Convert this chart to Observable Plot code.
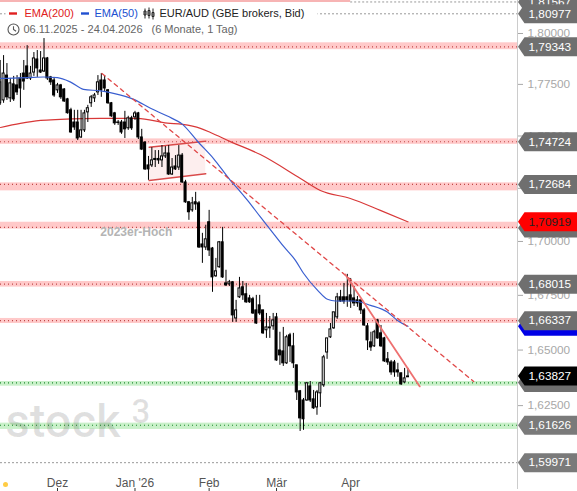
<!DOCTYPE html>
<html>
<head>
<meta charset="utf-8">
<script src="https://cdn.jsdelivr.net/npm/d3@7"></script>
<script src="https://cdn.jsdelivr.net/npm/@observablehq/plot@0.6"></script>
<style>html,body{margin:0;padding:0;background:#fff}</style>
</head>
<body>
<div id="chart"></div>
<script>
const opens=[1.7658,1.7672,1.7793,1.7682,1.7750,1.7745,1.7779,1.7803,1.7838,1.7779,1.7808,1.7872,1.7818,1.7813,1.7877,1.7784,1.7769,1.7721,1.7745,1.7725,1.7677,1.7624,1.7565,1.7565,1.7493,1.7527,1.7614,1.7658,1.7682,1.7711,1.7769,1.7769,1.7721,1.7658,1.7609,1.7565,1.7565,1.7565,1.7537,1.7585,1.7590,1.7609,1.7493,1.7468,1.7359,1.7359,1.7390,1.7390,1.7383,1.7402,1.7416,1.7316,1.7354,1.7349,1.7406,1.7278,1.7184,1.7146,1.7184,1.7179,1.6986,1.6972,1.7090,1.6967,1.6838,1.6880,1.6996,1.6805,1.6801,1.6810,1.6644,1.6741,1.6787,1.6755,1.6736,1.6732,1.6681,1.6704,1.6681,1.6590,1.6599,1.6608,1.6649,1.6498,1.6494,1.6440,1.6567,1.6517,1.6431,1.6314,1.6273,1.6273,1.6336,1.6278,1.6242,1.6305,1.6341,1.6489,1.6558,1.6599,1.6649,1.6741,1.6741,1.6741,1.6750,1.6736,1.6727,1.6727,1.6681,1.6608,1.6535,1.6517,1.6635,1.6576,1.6553,1.6458,1.6444,1.6444,1.6408,1.6395,1.6354,1.6377];
const closes=[1.7760,1.7803,1.7687,1.7755,1.7677,1.7711,1.7730,1.7764,1.7779,1.7803,1.7877,1.7828,1.7808,1.7877,1.7779,1.7760,1.7696,1.7745,1.7687,1.7667,1.7610,1.7517,1.7541,1.7488,1.7527,1.7609,1.7634,1.7687,1.7696,1.7760,1.7721,1.7730,1.7658,1.7595,1.7561,1.7563,1.7517,1.7532,1.7585,1.7537,1.7609,1.7493,1.7435,1.7340,1.7340,1.7383,1.7385,1.7383,1.7402,1.7416,1.7316,1.7349,1.7340,1.7406,1.7278,1.7184,1.7137,1.7179,1.7174,1.6972,1.6972,1.7010,1.6958,1.6833,1.6861,1.6996,1.6833,1.6796,1.6810,1.6658,1.6681,1.6782,1.6750,1.6718,1.6718,1.6667,1.6621,1.6667,1.6576,1.6603,1.6603,1.6635,1.6453,1.6476,1.6440,1.6558,1.6517,1.6440,1.6309,1.6193,1.6189,1.6350,1.6273,1.6238,1.6309,1.6350,1.6467,1.6553,1.6594,1.6672,1.6741,1.6722,1.6722,1.6727,1.6722,1.6713,1.6713,1.6681,1.6612,1.6544,1.6512,1.6581,1.6553,1.6517,1.6449,1.6444,1.6399,1.6399,1.6399,1.6345,1.6372,1.6381];
const highs=[1.7867,1.7891,1.7852,1.7779,1.7789,1.7793,1.7803,1.7867,1.7940,1.7838,1.7906,1.7916,1.7911,1.7975,1.7882,1.7789,1.7784,1.7755,1.7750,1.7730,1.7682,1.7634,1.7624,1.7624,1.7624,1.7624,1.7648,1.7696,1.7706,1.7793,1.7803,1.7793,1.7725,1.7662,1.7614,1.7575,1.7575,1.7619,1.7595,1.7595,1.7619,1.7614,1.7532,1.7473,1.7402,1.7444,1.7430,1.7430,1.7454,1.7449,1.7454,1.7392,1.7406,1.7454,1.7416,1.7288,1.7188,1.7207,1.7231,1.7188,1.7038,1.7076,1.7146,1.6972,1.6921,1.7000,1.7066,1.6866,1.6819,1.6814,1.6727,1.6833,1.6814,1.6805,1.6750,1.6741,1.6750,1.6750,1.6681,1.6667,1.6653,1.6667,1.6667,1.6581,1.6603,1.6567,1.6576,1.6576,1.6431,1.6318,1.6282,1.6354,1.6358,1.6318,1.6318,1.6354,1.6476,1.6553,1.6621,1.6672,1.6759,1.6773,1.6805,1.6847,1.6828,1.6791,1.6745,1.6727,1.6690,1.6621,1.6581,1.6590,1.6640,1.6612,1.6558,1.6489,1.6453,1.6453,1.6440,1.6395,1.6417,1.6417];
const lows=[1.7648,1.7658,1.7672,1.7662,1.7667,1.7696,1.7634,1.7721,1.7774,1.7769,1.7789,1.7784,1.7803,1.7808,1.7769,1.7745,1.7687,1.7706,1.7677,1.7662,1.7605,1.7513,1.7527,1.7478,1.7488,1.7517,1.7565,1.7638,1.7662,1.7696,1.7687,1.7711,1.7653,1.7590,1.7551,1.7551,1.7508,1.7488,1.7527,1.7527,1.7575,1.7483,1.7430,1.7335,1.7288,1.7349,1.7349,1.7364,1.7349,1.7392,1.7311,1.7311,1.7335,1.7335,1.7273,1.7179,1.7099,1.7137,1.7146,1.6967,1.6898,1.6958,1.6930,1.6764,1.6833,1.6875,1.6828,1.6791,1.6791,1.6626,1.6626,1.6736,1.6727,1.6713,1.6713,1.6662,1.6617,1.6658,1.6571,1.6553,1.6553,1.6590,1.6449,1.6431,1.6426,1.6435,1.6444,1.6417,1.6273,1.6135,1.6140,1.6269,1.6264,1.6233,1.6207,1.6242,1.6332,1.6458,1.6553,1.6594,1.6640,1.6718,1.6709,1.6695,1.6690,1.6699,1.6695,1.6662,1.6608,1.6498,1.6494,1.6512,1.6549,1.6512,1.6444,1.6431,1.6386,1.6377,1.6377,1.6341,1.6350,1.6377];

const ema200Bars=[0.1,6,12,17.9,29.8,40.7,49.6,54.1,59.4,62.4,68.3,77.2,89.1,95,103.9,112.8,121];
const ema200Values=[1.7541,1.7561,1.7575,1.7580,1.7585,1.7585,1.7562,1.7556,1.7537,1.7517,1.7473,1.7411,1.7297,1.7240,1.7202,1.7146,1.7092];
const ema50Bars=[0.1,9.9,12.8,17,20.9,24.7,29.8,33.6,39.6,44.6,49.6,54.1,58.8,63.3,68.3,70.4,73.4,77.2,80.8,84.1,87.6,90,94.2,97.1,99.5,104.8,109.9,114.9,117.9,121];
const ema50Values=[1.7779,1.7784,1.7786,1.7783,1.7761,1.7726,1.7718,1.7706,1.7677,1.7634,1.7596,1.7556,1.7470,1.7392,1.7288,1.7250,1.7193,1.7115,1.7043,1.6977,1.6912,1.6852,1.6773,1.6732,1.6724,1.6724,1.6704,1.6673,1.6635,1.6608];

const redZoneHigh=[1.7954,1.7486,1.7276,1.7090,1.6814,1.6644];
const redZoneLow=[1.7920,1.7460,1.7238,1.7058,1.6788,1.6621];
const redZoneLevel=[1.79343,1.74724,1.72684,1.7066,1.68015,1.66337];
const greenZoneHigh=[1.6358,1.6172];
const greenZoneLow=[1.6337,1.6144];
const greenZoneLevel=[1.6352,1.61626];
const dashedLevels=[1.80977,1.59971];

const dashedTrendBars=[30.2,140.5], dashedTrendPrices=[1.7803,1.6358];
const solidTrendBars=[102.4,124.5], solidTrendPrices=[1.6846,1.6336];
const channelBars=[44.2,61], channelUpper=[1.7446,1.7475], channelLower=[1.7287,1.7319];

const monthBars=[17,40,62,82,104];
const monthLabels=["Dez","Jan '26","Feb","Mär","Apr"];
const yTicks=[1.8,1.775,1.75,1.725,1.7,1.675,1.65,1.625,1.6];
const tags=[
 [1.81567,"#6f6f6f","#fff",true],[1.80977,"#6f6f6f","#fff",true],[1.79343,"#6f6f6f","#fff",true],
 [1.74724,"#6f6f6f","#fff",true],[1.72684,"#6f6f6f","#fff",true],[1.7063,"#6f6f6f","#fff",false],
 [1.70919,"#ff0000","#222",true],[1.68015,"#6f6f6f","#fff",true],[1.6608,"#0000e6","#fff",false],
 [1.66337,"#6f6f6f","#fff",true],[1.6354,"#6f6f6f","#fff",false],[1.63827,"#000000","#fff",true],
 [1.61626,"#7a7a7a","#fff",true],[1.59971,"#7a7a7a","#fff",true]
];
const legendRow=[
 ["EMA(200)",24,13,"#e02020"],["EMA(50)",94,13,"#2050d0"],["EUR/AUD (GBE brokers, Bid)",159,13,"#222"],
 ["06.11.2025 - 24.04.2026",23,29,"#666"],["(6 Monate, 1 Tag)",151,29,"#666"]
];

const fmt=v=>v.toFixed(5).replace(".",",");
const bars=opens.map((o,i)=>({i,o,c:closes[i],h:highs[i],l:lows[i]}));
const zip=(xs,ys)=>xs.map((x,k)=>({x,y:ys[k]}));
const zones=(hi,lo)=>hi.map((h,k)=>({h,l:lo[k]}));
const xMin=0.09,xMax=153.5;
const shape=f=>({draw:f});
const tagShape=shape(c=>{c.moveTo(0.5,0);c.lineTo(7,-9.5);c.lineTo(60,-9.5);c.lineTo(60,9.5);c.lineTo(7,9.5);c.closePath();});
const dashShape=shape(c=>{c.rect(-4,-1.2,8,2.4);});
const clockShape=shape(c=>{c.moveTo(5.5,0);c.arc(0,0,5.5,0,2*Math.PI);c.moveTo(0,-3.2);c.lineTo(0,0);c.lineTo(2.6,1.8);});
const candleShape=shape(c=>{
 c.moveTo(-4,-5);c.lineTo(-4,5);c.moveTo(0,-6);c.lineTo(0,5);c.moveTo(4,-5);c.lineTo(4,6);
 c.rect(-5,-2.5,2,4);c.rect(-1,-3,2,5);c.rect(3,-1,2,4);
});
const blankShape=shape(c=>{c.rect(0,0,312,17);});

const tagMarks=tags.flatMap(([v,fill,ink,show])=>[
 Plot.dot([v],{y:d=>d,frameAnchor:"right",symbol:tagShape,r:5,fill,stroke:"none"}),
 ...(show?[Plot.text([v],{y:d=>d,frameAnchor:"right",dx:11,textAnchor:"start",text:fmt,fill:ink,fontSize:11.8})]:[])
]);

const chart=Plot.plot({
 width:577,height:491,marginTop:0,marginLeft:0,marginRight:60,marginBottom:3,
 style:{background:"#fff",fontFamily:"'Liberation Sans',Arial,sans-serif",fontSize:"12px"},
 x:{type:"linear",domain:[xMin,xMax]},
 y:{type:"log",domain:[1.5884,1.8164]},
 marks:[
  Plot.rect(zones(redZoneHigh,redZoneLow),{x1:xMin,x2:xMax,y1:"l",y2:"h",fill:"#ffc9c9"}),
  Plot.rect(zones(greenZoneHigh,greenZoneLow),{x1:xMin,x2:xMax,y1:"l",y2:"h",fill:"#c9f0c9"}),
  Plot.ruleY([1.8162],{x1:xMin,x2:104,stroke:"#f7b4b4",strokeWidth:2}),
  Plot.ruleY([1.81567],{x1:104,x2:xMax,stroke:"#999",strokeDasharray:"2,2"}),
  Plot.ruleY(dashedLevels,{stroke:"#999",strokeDasharray:"2,2"}),
  Plot.ruleY(redZoneLevel,{stroke:"#c04848",strokeDasharray:"1,3",strokeWidth:1.2}),
  Plot.ruleY(greenZoneLevel,{stroke:"#1f8a2f",strokeDasharray:"1,3",strokeWidth:1.2}),
  Plot.text(["stock"],{frameAnchor:"top-left",dx:5,dy:421,text:d=>d,lineAnchor:"middle",textAnchor:"start",fontSize:47,fontFamily:"Roboto",fontWeight:500,letterSpacing:"1.5px",fill:"#000",fillOpacity:0.12}),
  Plot.text(["3"],{frameAnchor:"top-left",dx:131,dy:412,text:d=>d,lineAnchor:"middle",textAnchor:"start",fontSize:33,fontFamily:"Roboto",fontWeight:500,fill:"#000",fillOpacity:0.12}),
  Plot.text(["2023er-Hoch"],{x:29.7,y:1.7043,text:d=>d,textAnchor:"start",fontSize:12,fontWeight:"bold",fill:"#b4b4b4"}),
  Plot.areaY(channelBars.map((x,k)=>({x,a:channelLower[k],b:channelUpper[k]})),{x:"x",y1:"a",y2:"b",fill:"#fdeeee"}),
  Plot.line(zip(channelBars,channelUpper),{x:"x",y:"y",stroke:"#d94a4a",strokeWidth:1.4}),
  Plot.line(zip(channelBars,channelLower),{x:"x",y:"y",stroke:"#d94a4a",strokeWidth:1.4}),
  Plot.line(zip(ema200Bars,ema200Values),{x:"x",y:"y",stroke:"#d83838",strokeWidth:1.2,curve:"monotone-x"}),
  Plot.ruleX(bars,{x:"i",y1:"l",y2:"h",stroke:"#000",strokeWidth:1}),
  Plot.rect(bars.filter(d=>d.c<d.o),{x1:d=>d.i-0.3,x2:d=>d.i+0.3,y1:"o",y2:"c",fill:"#000",stroke:"#000"}),
  Plot.rect(bars.filter(d=>d.c>=d.o),{x1:d=>d.i-0.3,x2:d=>d.i+0.3,y1:"o",y2:"c",fill:"#fff",stroke:"#000"}),
  Plot.line(zip(ema50Bars,ema50Values),{x:"x",y:"y",stroke:"#3a5fd0",strokeWidth:1.2,curve:"monotone-x"}),
  Plot.line(zip(dashedTrendBars,dashedTrendPrices),{x:"x",y:"y",stroke:"#e04848",strokeWidth:1.3,strokeDasharray:"4,4"}),
  Plot.line(zip(solidTrendBars,solidTrendPrices),{x:"x",y:"y",stroke:"#ee7070",strokeWidth:1.8}),
  Plot.frame({anchor:"right",stroke:"#ccc"}),
  Plot.axisY({anchor:"right",ticks:yTicks,tickSize:5,tickPadding:5,tickFormat:fmt,color:"#a8a8a8",fontSize:11.8,label:null}),
  Plot.axisX({anchor:"bottom",ticks:monthBars,tickSize:3,tickFormat:()=>"",color:"#333",label:null}),
  Plot.textX(monthBars,{x:d=>d,frameAnchor:"bottom",lineAnchor:"bottom",dy:-2,text:(d,i)=>monthLabels[i],fontSize:12,fill:"#555"}),
  Plot.dot([0],{frameAnchor:"bottom-left",dx:5,dy:-4,r:2.5,fill:"#ffcc44",stroke:"none"}),
  ...tagMarks,
  Plot.dot([0],{frameAnchor:"top-left",dx:5,dy:5,symbol:blankShape,r:5,fill:"#fff",stroke:"none"}),
  Plot.dot([0],{frameAnchor:"top-left",dx:12.5,dy:13,symbol:dashShape,r:4,fill:"#e02020",stroke:"none"}),
  Plot.dot([0],{frameAnchor:"top-left",dx:84.5,dy:13,symbol:dashShape,r:4,fill:"#2050d0",stroke:"none"}),
  Plot.dot([0],{frameAnchor:"top-left",dx:148.5,dy:13,symbol:candleShape,r:4,fill:"none",stroke:"#222",strokeWidth:1}),
  Plot.dot([0],{frameAnchor:"top-left",dx:13,dy:29,symbol:clockShape,r:4,fill:"none",stroke:"#555",strokeWidth:1.1}),
  ...legendRow.map(([t,dx,dy,fill])=>Plot.text([t],{frameAnchor:"top-left",dx,dy,text:d=>d,fill,fontSize:11,lineAnchor:"middle",textAnchor:"start"}))
 ]
});
document.getElementById("chart").appendChild(chart);
</script>
</body>
</html>
